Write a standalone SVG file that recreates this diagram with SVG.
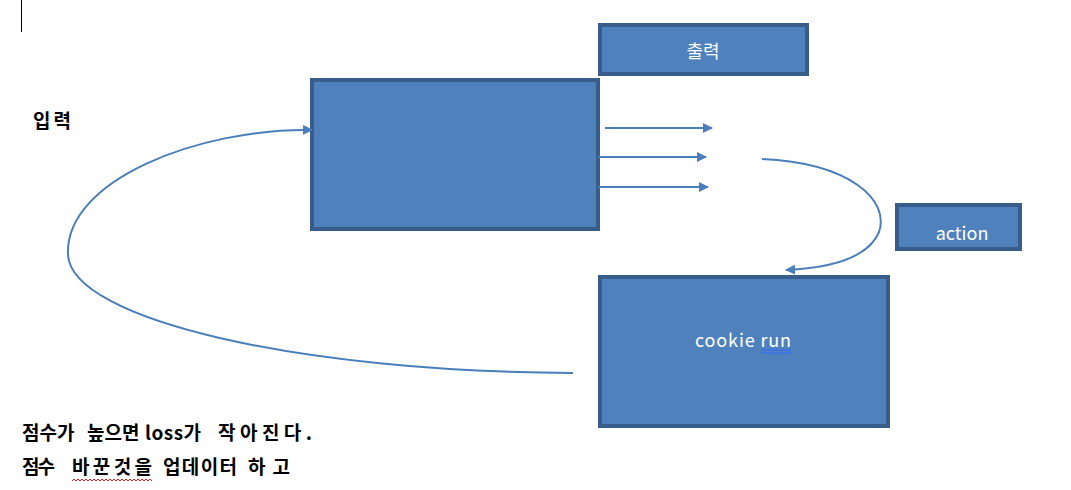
<svg xmlns="http://www.w3.org/2000/svg" width="1071" height="490" viewBox="0 0 1071 490">
<style>
.box{fill:#4F81BD;stroke:#385D8A;stroke-width:4}
.lbl{font-family:"Noto Sans CJK KR","Noto Sans",sans-serif;fill:#fff;font-size:18px;text-anchor:middle}
.blk{font-family:"Noto Sans CJK KR","Noto Sans",sans-serif;fill:#000;font-size:19px;font-weight:bold}
.con{fill:none;stroke:#4A7EBB;stroke-width:2}
</style>
<defs>
<marker id="ah" viewBox="0 0 10 10" refX="9" refY="5" markerWidth="5" markerHeight="5" orient="auto" markerUnits="strokeWidth">
<path d="M0,0 L10,5 L0,10 z" fill="#4A7EBB"/>
</marker>
</defs>
<rect width="1071" height="490" fill="#fff"/>
<line x1="21.5" y1="0" x2="21.5" y2="32" stroke="#000" stroke-width="1"/>
<g id="main"><rect class="box" x="312" y="80" width="286" height="149"/></g>
<g id="output"><rect class="box" x="600" y="25" width="207" height="49"/><text class="lbl" x="703" y="58">출력</text></g>
<g id="action"><rect class="box" x="897" y="205" width="123" height="44"/><text class="lbl" x="962" y="240" font-size="17">action</text></g>
<g id="cookie"><rect class="box" x="600" y="277" width="288" height="149"/><text class="lbl" x="743" y="347" font-size="18" textLength="96" lengthAdjust="spacing">cookie run</text>
<line x1="761" y1="350" x2="791" y2="350" stroke="#3366FF" stroke-width="1"/><line x1="761" y1="353" x2="791" y2="353" stroke="#3366FF" stroke-width="1"/></g>
<g id="input"><text class="blk" x="33" y="128" font-size="20" textLength="38" lengthAdjust="spacing">입력</text></g>
<g id="notes">
<text class="blk" y="440"><tspan x="22">점수가</tspan> <tspan x="87">높으면</tspan> <tspan x="145" textLength="56">loss가</tspan> <tspan x="218" textLength="94">작아진다.</tspan></text>
<text class="blk" y="474"><tspan x="22" textLength="33">점수</tspan> <tspan x="72" textLength="80">바꾼것을</tspan> <tspan x="163" textLength="74">업데이터</tspan> <tspan x="248" textLength="42">하고</tspan></text>
<path d="M72,481 l2,-2 l2,2 l2,-2 l2,2 l2,-2 l2,2 l2,-2 l2,2 l2,-2 l2,2 l2,-2 l2,2 l2,-2 l2,2 l2,-2 l2,2 l2,-2 l2,2 l2,-2 l2,2 l2,-2 l2,2 l2,-2 l2,2 l2,-2 l2,2 l2,-2 l2,2 l2,-2 l2,2 l2,-2 l2,2 l2,-2 l2,2 l2,-2 l2,2 l2,-2 l2,2 l2,-2 l2,2" fill="none" stroke="#E02020" stroke-width="1"/>
</g>
<g id="connectors">
<line class="con" x1="605" y1="128" x2="712" y2="128" marker-end="url(#ah)"/>
<line class="con" x1="598" y1="157" x2="706" y2="157" marker-end="url(#ah)"/>
<line class="con" x1="598" y1="187" x2="708" y2="187" marker-end="url(#ah)"/>
<path class="con" d="M762,159 C850,163 890,200 879,232 C868,258 830,268 786,270" marker-end="url(#ah)"/>
<path class="con" d="M573,373 C300,372 72,320 68,255 C64,180 200,128 312,130" marker-end="url(#ah)"/>
</g>
</svg>
